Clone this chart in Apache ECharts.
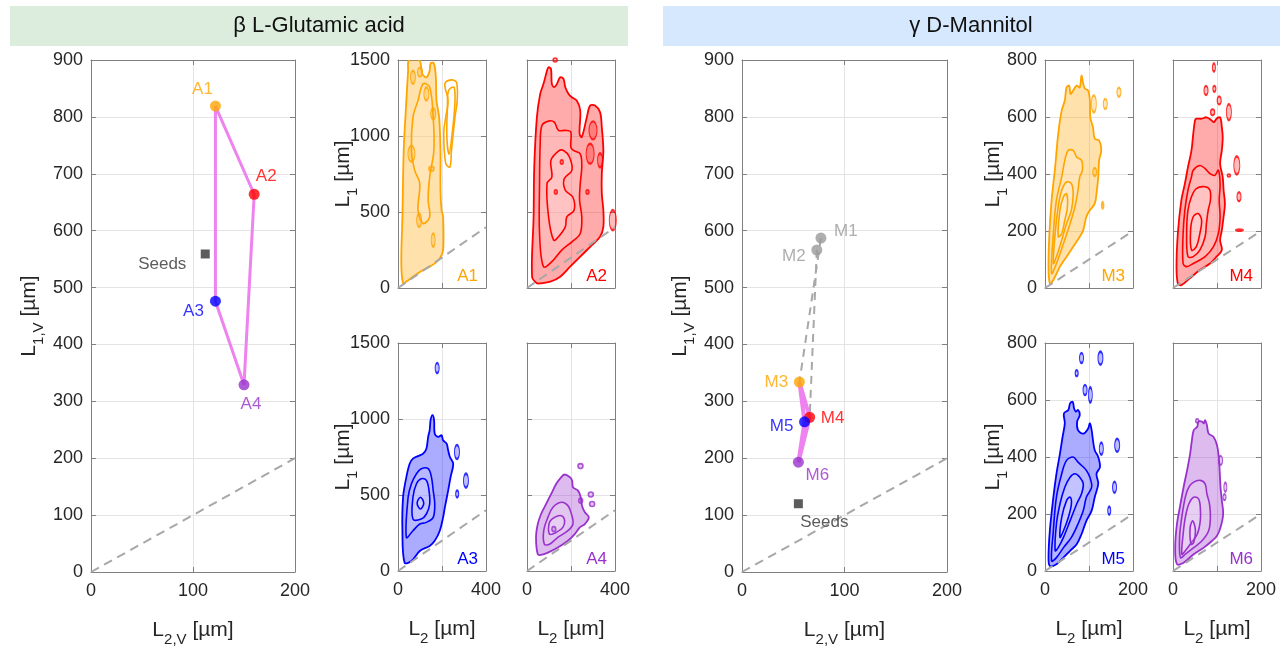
<!DOCTYPE html>
<html><head><meta charset="utf-8">
<script src="https://cdn.jsdelivr.net/npm/echarts@6/dist/echarts.min.js"></script>
<style>html,body{margin:0;padding:0;background:#fff}#c{width:1286px;height:646px}</style>
</head><body><div id="c"></div>
<script>
const FONT = '"Liberation Sans", Arial, Helvetica, sans-serif';

// ---------- main panels ----------
const glutNames = ['A1', 'A2', 'A3', 'A4'];
const glutL2 = [122, 160, 122, 150];
const glutL1 = [819, 664, 476, 329];
const glutSeed = [112, 559];
const glutPath = ['A1', 'A2', 'A4', 'A3', 'A1'];

const manNames = ['M1', 'M2', 'M3', 'M4', 'M5', 'M6'];
const manL2 = [77, 73, 56, 66, 61, 55];
const manL1 = [587, 566, 334, 272, 264, 193];
const manSeed = [55, 120];
const manPath = ['M3', 'M4', 'M6', 'M5', 'M3'];
const manGrayLinks = [['M1', 'M3'], ['M2', 'M4']];

const mainXTicks = [0, 100, 200];
const mainYTicks = [0, 100, 200, 300, 400, 500, 600, 700, 800, 900];
const aXTicks = [0, 200, 400];
const aYTicks = [0, 500, 1000, 1500];
const mXTicks = [0, 100, 200];
const mYTicks = [0, 200, 400, 600, 800];

// ---------- contour outlines (L2, L1) per small panel ----------
const A1_L1 = [[23,31],[15,162],[20,468],[26,905],[38,1233],[46,1430],[50,1500],[96,1500],[111,1408],[129,1386],[144,1430],[148,1478],[163,1478],[172,1386],[175,1233],[187,1124],[193,905],[193,643],[198,512],[205,468],[205,249],[190,195],[167,162],[144,140],[114,118],[68,74],[38,42]];
const A1_L2 = [[61,905],[68,1124],[91,1233],[114,1343],[144,1321],[160,1124],[163,905],[144,730],[137,577],[144,468],[114,424],[91,512],[99,687],[76,774]];
const A1_I1 = [[213,1343],[243,1369],[266,1353],[269,1233],[259,1124],[243,905],[236,796],[217,818],[208,1015],[217,1124],[228,1233]];
const A1_I2 = [[230,1300],[255,1320],[258,1200],[245,1000],[232,880],[222,1000],[225,1200]];
const A1_dots = [[68,1386],[129,1277],[160,1146],[96,446],[160,315],[152,785],[61,883],[100,1420]];

const A2_L1 = [[45,31],[23,74],[30,468],[33,796],[45,1124],[60,1277],[75,1343],[91,1430],[98,1452],[109,1441],[113,1343],[124,1321],[136,1343],[151,1386],[166,1375],[174,1321],[189,1277],[204,1255],[226,1233],[242,1168],[239,1015],[249,993],[272,1124],[287,1200],[309,1200],[332,1157],[340,1058],[347,905],[340,752],[340,621],[347,512],[347,402],[332,337],[287,271],[242,206],[196,140],[151,74],[106,42],[60,31]];
const A2_L2 = [[75,140],[57,359],[57,687],[60,949],[68,1069],[98,1098],[124,1091],[143,1037],[174,1037],[199,1026],[199,927],[211,905],[242,883],[249,796],[242,687],[239,577],[249,468],[242,359],[204,304],[158,249],[113,173]];
const A2_L3 = [[121,315],[98,468],[91,687],[113,730],[109,840],[143,901],[166,905],[193,862],[204,774],[169,719],[174,643],[208,599],[214,512],[181,468],[174,402],[143,337]];
const A2_dots = [[300,1037],[287,883],[332,840],[390,446],[128,1500],[275,632],[158,829],[131,632]];

const A3_L1 = [[30,55],[20,265],[23,485],[38,618],[53,706],[68,739],[99,761],[114,772],[129,805],[137,882],[144,927],[148,993],[157,1026],[164,993],[167,904],[183,882],[198,893],[205,860],[221,838],[228,794],[236,750],[251,706],[239,618],[228,529],[213,419],[205,353],[190,265],[167,199],[144,165],[99,132],[61,66]];
const A3_L2 = [[38,221],[46,485],[61,574],[84,640],[106,673],[137,673],[152,618],[160,529],[167,441],[160,353],[129,320],[99,309],[68,265]];
const A3_L3 = [[68,342],[68,485],[84,574],[106,607],[129,596],[141,529],[144,441],[129,375],[106,342]];
const A3_L4 = [[87,446],[102,485],[117,446],[102,408]];
const A3_dots = [[178,1335],[268,783],[309,595],[269,507]];

const A4_L1 = [[49,110],[41,221],[49,309],[64,375],[87,441],[110,507],[133,574],[156,618],[171,635],[194,618],[205,596],[209,551],[232,529],[244,485],[250,430],[263,386],[281,353],[263,309],[240,287],[217,243],[186,199],[140,154],[95,121],[64,106]];
const A4_L2 = [[79,176],[76,265],[95,353],[118,419],[156,452],[186,430],[202,375],[209,309],[186,265],[140,221],[102,176]];
const A4_L3 = [[102,243],[102,320],[125,353],[156,364],[171,331],[163,287],[133,254]];
const A4_dots = [[122,276],[243,690],[290,503],[296,441],[244,463]];

const M3_L1 = [[11,16],[8,75],[10,191],[15,308],[23,424],[30,541],[38,623],[45,658],[49,704],[55,710],[58,681],[64,693],[72,710],[79,704],[83,745],[87,716],[91,699],[98,693],[102,658],[103,599],[109,564],[113,524],[123,518],[128,483],[123,448],[121,389],[117,331],[113,296],[102,273],[94,250],[87,203],[79,180],[64,145],[49,110],[34,75],[19,28]];
const M3_L2 = [[15,51],[19,191],[26,308],[38,390],[45,448],[53,483],[64,483],[72,459],[83,448],[85,413],[79,390],[75,343],[68,285],[57,226],[42,156],[26,86]];
const M3_L3 = [[19,86],[23,191],[30,285],[38,343],[49,372],[60,366],[64,331],[60,273],[49,226],[38,168],[26,110]];
const M3_L4 = [[30,180],[34,273],[42,320],[49,331],[51,285],[45,238],[38,191]];
const M3_dots = [[111,646],[137,646],[168,687],[131,290],[113,407]];

const M4_L1 = [[11,16],[8,75],[11,191],[19,308],[27,366],[34,424],[42,483],[46,541],[50,588],[53,594],[65,594],[76,599],[88,588],[93,582],[99,594],[107,599],[111,564],[113,529],[111,483],[107,436],[113,389],[115,343],[118,296],[115,250],[111,203],[107,168],[111,133],[99,110],[84,86],[61,63],[38,34],[19,10]];
const M4_L2 = [[23,86],[23,191],[27,273],[34,343],[42,390],[46,413],[61,430],[73,419],[84,401],[95,395],[103,413],[107,366],[105,308],[107,250],[103,191],[92,145],[73,110],[46,86],[31,75]];
const M4_L3 = [[34,110],[31,191],[34,273],[42,320],[53,349],[73,355],[84,343],[85,308],[80,273],[76,226],[73,180],[61,133],[46,110]];
const M4_L4 = [[42,133],[40,203],[46,250],[57,261],[65,238],[61,191],[53,145]];
const M4_dots = [[93,774],[75,693],[94,699],[105,658],[90,617],[127,617],[145,430],[127,395],[150,320],[151,203]];

const M5_L1 = [[11,18],[8,47],[11,141],[19,259],[26,341],[34,412],[40,471],[45,518],[43,553],[53,565],[57,588],[63,594],[66,571],[70,559],[75,565],[79,547],[73,524],[75,494],[87,482],[98,500],[102,518],[106,494],[109,459],[113,424],[121,400],[125,365],[117,341],[121,306],[113,259],[106,212],[94,176],[83,129],[72,94],[57,71],[42,47],[26,24]];
const M5_L2 = [[15,35],[19,141],[26,259],[38,341],[49,388],[64,400],[75,382],[87,365],[94,353],[102,329],[106,294],[94,259],[87,212],[75,165],[60,118],[42,82],[26,47]];
const M5_L3 = [[23,71],[26,165],[34,235],[45,294],[57,329],[68,341],[79,329],[87,306],[83,271],[72,235],[57,176],[42,118],[30,82]];
const M5_L4 = [[34,118],[38,188],[49,247],[57,259],[60,235],[53,188],[42,141]];
const M5_dots = [[83,747],[126,747],[72,694],[91,635],[103,618],[128,429],[164,441],[158,294],[146,212]];

const M6_L1 = [[9,24],[5,82],[9,165],[17,235],[24,294],[32,353],[39,412],[43,459],[47,494],[55,506],[58,524],[66,524],[70,518],[73,529],[77,512],[81,482],[92,471],[100,441],[104,400],[106,353],[108,294],[111,247],[114,200],[108,153],[100,124],[89,106],[70,82],[47,59],[24,29]];
const M6_L2 = [[17,47],[15,118],[20,188],[28,259],[36,294],[47,312],[62,318],[73,306],[77,271],[83,235],[85,188],[81,141],[66,106],[47,82],[28,59]];
const M6_L3 = [[20,59],[23,129],[28,188],[36,235],[47,259],[58,253],[62,224],[62,176],[55,129],[39,94],[28,71]];
const M6_L4 = [[41,94],[39,153],[45,176],[51,141],[47,100]];
const M6_dots = [[55,527],[108,388],[119,294],[117,259]];

// ---------- styles (kept apart from values) ----------
const COL = {orange:'#ffa500', red:'#ff0000', blue:'#0000ff', purple:'#9932cc', gray:'#9a9a9a'};
const FILL = {orange:'rgba(255,165,0,0.33)', red:'rgba(255,0,0,0.33)', blue:'rgba(0,0,255,0.33)', purple:'rgba(153,50,204,0.33)'};
const glutColors = [COL.orange, COL.red, COL.blue, COL.purple];
const manColors = [COL.gray, COL.gray, COL.orange, COL.red, COL.blue, COL.purple];
const glutLabelOffsets = [[-13,-17],[12,-18],[-22,10],[7,19]];
const manLabelOffsets = [[25,-7],[-23,6],[-23,0],[23,1],[-23,4],[19,13]];
const A1_dotSize = [[5,13],[5,13],[5,11],[5,13],[4,13],[5,5],[7,16],[5,9]];
const A2_dotSize = [[8,18],[8,20],[5,14],[7,20],[4,4],[3,4],[3,4],[3,4]];
const A3_dotSize = [[4,10],[5,14],[5,14],[3,7]];
const A4_dotSize = [[4,5],[5,5],[5,5],[5,5],[4,5]];
const M3_dotSize = [[5,17],[4,10],[4,9],[2,5],[4,8]];
const M4_dotSize = [[3,8],[4,9],[3,6],[4,8],[4,6],[5,16],[6,18],[3,3],[4,9],[5,2]];
const M5_dotSize = [[4,10],[5,13],[3,6],[4,10],[4,15],[4,12],[5,13],[4,11],[3,8]];
const M6_dotSize = [[3,4],[4,9],[3,9],[3,6]];

const G = [
  {l:91, t:60, w:204, h:512},
  {l:398, t:60, w:88, h:228},
  {l:527, t:60, w:88, h:228},
  {l:398, t:343, w:88, h:228},
  {l:527, t:343, w:88, h:228},
  {l:742, t:60, w:205, h:512},
  {l:1045, t:60, w:88, h:228},
  {l:1173, t:60, w:88, h:228},
  {l:1045, t:343, w:88, h:228},
  {l:1173, t:343, w:88, h:228}
];

const AX = '#808080', TXT = '#262626';
const rich = {
  n: {fontSize: 21, fontFamily: FONT, color: TXT, verticalAlign: 'top', lineHeight: 25},
  s: {fontSize: 15, fontFamily: FONT, color: TXT, verticalAlign: 'top', lineHeight: 17, padding: [12, 0, 0, 0]}
};

const xAxis = [], yAxis = [], series = [];

function addAxes(gi, xt, yt, o) {
  const base = (ticks, show, fmt, mg) => ({
    min: ticks[0], max: ticks[ticks.length - 1], interval: ticks[1] - ticks[0],
    axisLine: {show: true, onZero: false, lineStyle: {color: AX, width: 1}},
    axisTick: {show: true, inside: true, length: 5, lineStyle: {color: AX}},
    splitLine: {show: true, lineStyle: {color: '#e4e4e4', width: 1}},
    axisLabel: {show: show, color: TXT, fontSize: 18, fontFamily: FONT, margin: mg, formatter: fmt}
  });
  const xfmt = o.xEnds ? (v => (v === xt[0] || v === xt[xt.length - 1]) ? String(v) : '') : (v => String(v));
  const xa = Object.assign(base(xt, o.xLabels, xfmt, 10), {type: 'value', gridIndex: gi, position: 'bottom'});
  if (o.xName) Object.assign(xa, {name: o.xName, nameLocation: 'middle', nameGap: o.xGap, nameMoveOverlap: false, nameTextStyle: {rich: rich}});
  const ya = Object.assign(base(yt, o.yLabels, v => String(v), 8), {type: 'value', gridIndex: gi, position: 'left'});
  if (o.yName) Object.assign(ya, {name: o.yName, nameLocation: 'middle', nameGap: o.yGap, nameMoveOverlap: false, nameTextStyle: {rich: rich}});
  xAxis.push(xa);
  xAxis.push(Object.assign(base(xt, false, null, 8), {type: 'value', gridIndex: gi, position: 'top', splitLine: {show: false}}));
  yAxis.push(ya);
  yAxis.push(Object.assign(base(yt, false, null, 8), {type: 'value', gridIndex: gi, position: 'right', splitLine: {show: false}}));
}

function poly(gi, pts, stroke, fill, lw, z) {
  series.push({
    type: 'custom', xAxisIndex: 2 * gi, yAxisIndex: 2 * gi, data: [[pts[0][0], pts[0][1]]], silent: true, z: z, clip: true,
    renderItem: function (params, api) {
      const points = pts.map(p => api.coord(p));
      return {type: 'polygon', shape: {points: points, smooth: 0.35}, style: {fill: fill, stroke: stroke, lineWidth: lw}};
    }
  });
}
function dots(gi, pts, sizes, stroke, fill) {
  series.push({
    type: 'scatter', xAxisIndex: 2 * gi, yAxisIndex: 2 * gi, silent: true, z: 4,
    data: pts.map((p, i) => ({value: p, symbolSize: sizes[i]})),
    symbol: 'circle', itemStyle: {color: fill, borderColor: stroke, borderWidth: 1.6}
  });
}
function diag(gi, m) {
  series.push({type: 'line', xAxisIndex: 2 * gi, yAxisIndex: 2 * gi, data: [[0, 0], [m, m]], symbol: 'none', silent: true, z: 6,
    lineStyle: {color: '#a8a8a8', width: 2, type: [9, 6]}});
}
function panel(gi, levels, isl, islSize, cname, m) {
  const c = COL[cname];
  levels.forEach((lv, k) => poly(gi, lv, c, k === 0 ? FILL[cname] : 'rgba(255,255,255,0.16)', k === 0 ? 1.8 : 1.6, 3 + k * 0.01));
  dots(gi, isl, islSize, c, FILL[cname]);
  diag(gi, m);
}

// axes
const L1V = '{n|L}{s|1,V}{n| [µm]}', L2V = '{n|L}{s|2,V}{n| [µm]}';
const L1 = '{n|L}{s|1}{n| [µm]}', L2 = '{n|L}{s|2}{n| [µm]}';
addAxes(0, mainXTicks, mainYTicks, {xLabels: true, yLabels: true, xName: L2V, xGap: 48, yName: L1V, yGap: 47});
addAxes(1, aXTicks, aYTicks, {xLabels: false, yLabels: true, yName: L1, yGap: 40});
addAxes(2, aXTicks, aYTicks, {xLabels: false, yLabels: false});
addAxes(3, aXTicks, aYTicks, {xLabels: true, xEnds: true, yLabels: true, xName: L2, xGap: 48, yName: L1, yGap: 40});
addAxes(4, aXTicks, aYTicks, {xLabels: true, xEnds: true, yLabels: false, xName: L2, xGap: 48});
addAxes(5, mainXTicks, mainYTicks, {xLabels: true, yLabels: true, xName: L2V, xGap: 48, yName: L1V, yGap: 47});
addAxes(6, mXTicks, mYTicks, {xLabels: false, yLabels: true, yName: L1, yGap: 37});
addAxes(7, mXTicks, mYTicks, {xLabels: false, yLabels: false});
addAxes(8, mXTicks, mYTicks, {xLabels: true, xEnds: true, yLabels: true, xName: L2, xGap: 48, yName: L1, yGap: 37});
addAxes(9, mXTicks, mYTicks, {xLabels: true, xEnds: true, yLabels: false, xName: L2, xGap: 48});

// small panels
panel(1, [A1_L1, A1_L2, A1_I1, A1_I2], A1_dots, A1_dotSize, 'orange', 400);
panel(2, [A2_L1, A2_L2, A2_L3], A2_dots, A2_dotSize, 'red', 400);
panel(3, [A3_L1, A3_L2, A3_L3, A3_L4], A3_dots, A3_dotSize, 'blue', 400);
panel(4, [A4_L1, A4_L2, A4_L3], A4_dots, A4_dotSize, 'purple', 400);
panel(6, [M3_L1, M3_L2, M3_L3, M3_L4], M3_dots, M3_dotSize, 'orange', 200);
panel(7, [M4_L1, M4_L2, M4_L3, M4_L4], M4_dots, M4_dotSize, 'red', 200);
panel(8, [M5_L1, M5_L2, M5_L3, M5_L4], M5_dots, M5_dotSize, 'blue', 200);
panel(9, [M6_L1, M6_L2, M6_L3, M6_L4], M6_dots, M6_dotSize, 'purple', 200);

// main panels
diag(0, 200);
diag(5, 200);
const gIdx = n => glutNames.indexOf(n), mIdx = n => manNames.indexOf(n);
series.push({type: 'line', xAxisIndex: 0, yAxisIndex: 0, symbol: 'none', silent: true, z: 7,
  data: glutPath.map(n => [glutL2[gIdx(n)], glutL1[gIdx(n)]]), lineStyle: {color: '#ee82ee', width: 3}});
manGrayLinks.forEach(pr => series.push({type: 'line', xAxisIndex: 10, yAxisIndex: 10, symbol: 'none', silent: true, z: 7,
  data: pr.map(n => [manL2[mIdx(n)], manL1[mIdx(n)]]), lineStyle: {color: '#a8a8a8', width: 2, type: [8, 6]}}));
series.push({type: 'line', xAxisIndex: 10, yAxisIndex: 10, symbol: 'none', silent: true, z: 7,
  data: manPath.map(n => [manL2[mIdx(n)], manL1[mIdx(n)]]), lineStyle: {color: '#ee82ee', width: 4}});

const ptLabel = (name, color, off) => ({show: true, formatter: name, position: 'inside', offset: off, color: color, fontSize: 17, fontFamily: FONT});
series.push({type: 'scatter', xAxisIndex: 0, yAxisIndex: 0, z: 8, symbol: 'circle', symbolSize: 11,
  data: glutNames.map((n, i) => ({value: [glutL2[i], glutL1[i]], itemStyle: {color: glutColors[i]}, label: ptLabel(n, glutColors[i], glutLabelOffsets[i])}))});
series.push({type: 'scatter', xAxisIndex: 10, yAxisIndex: 10, z: 8, symbol: 'circle', symbolSize: 11,
  data: manNames.map((n, i) => ({value: [manL2[i], manL1[i]], itemStyle: {color: manColors[i]}, label: ptLabel(n, manColors[i], manLabelOffsets[i])}))});
series.push({type: 'scatter', xAxisIndex: 0, yAxisIndex: 0, z: 8, symbol: 'rect', symbolSize: 9,
  data: [{value: glutSeed, itemStyle: {color: '#333'}, label: ptLabel('Seeds', '#333', [-43, 10])}]});
series.push({type: 'scatter', xAxisIndex: 10, yAxisIndex: 10, z: 8, symbol: 'rect', symbolSize: 9,
  data: [{value: manSeed, itemStyle: {color: '#333'}, label: ptLabel('Seeds', '#333', [26, 19])}]});

// panel tags
const tags = [[1, 'A1', COL.orange], [2, 'A2', COL.red], [3, 'A3', COL.blue], [4, 'A4', COL.purple],
  [6, 'M3', COL.orange], [7, 'M4', COL.red], [8, 'M5', COL.blue], [9, 'M6', COL.purple]];
const graphic = [
  {type: 'rect', shape: {x: 10, y: 6, width: 618, height: 40}, style: {fill: '#ddeddd'}, silent: true},
  {type: 'rect', shape: {x: 663, y: 6, width: 617, height: 40}, style: {fill: '#d6e8fd'}, silent: true},
  {type: 'text', x: 319, y: 26, style: {text: 'β L-Glutamic acid', fill: '#111', font: '22px ' + FONT, textAlign: 'center', textVerticalAlign: 'middle'}, silent: true},
  {type: 'text', x: 971, y: 26, style: {text: 'γ D-Mannitol', fill: '#111', font: '22px ' + FONT, textAlign: 'center', textVerticalAlign: 'middle'}, silent: true}
];
tags.forEach(t => {
  const g = G[t[0]];
  graphic.push({type: 'text', x: g.l + g.w - 8, y: g.t + g.h - 12, z: 100,
    style: {text: t[1], fill: t[2], font: '17px ' + FONT, textAlign: 'right', textVerticalAlign: 'middle'}, silent: true});
});

const chart = echarts.init(document.getElementById('c'), null, {renderer: 'canvas'});
chart.setOption({
  animation: false,
  backgroundColor: '#fff',
  grid: G.map(g => ({left: g.l, top: g.t, width: g.w, height: g.h, containLabel: false, outerBoundsMode: 'none'})),
  xAxis: xAxis, yAxis: yAxis, series: series, graphic: graphic
});
</script></body></html>
